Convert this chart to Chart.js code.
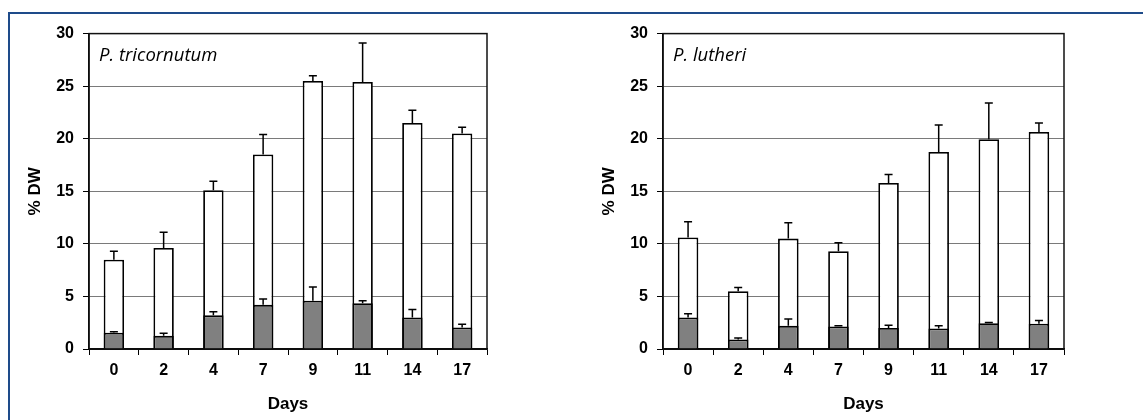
<!DOCTYPE html>
<html>
<head>
<meta charset="utf-8">
<script src="https://cdn.jsdelivr.net/npm/chart.js@4.4.1/dist/chart.umd.min.js"></script>
<style>
  html, body { margin: 0; padding: 0; background: #fff; overflow: hidden; }
  #frame { position: absolute; left: 8px; top: 12px; width: 1140px; height: 420px;
           border-top: 2px solid #1e4b8a; border-left: 2px solid #1e4b8a; }
  canvas { position: absolute; top: 15px; }
  #c1 { left: 10px; }
  #c2 { left: 584px; }
</style>
</head>
<body>
<div id="frame"></div>
<canvas id="c1" width="560" height="405"></canvas>
<canvas id="c2" width="560" height="405"></canvas>
<script>
// sampling days
var days = ['0', '2', '4', '7', '9', '11', '14', '17'];

// P. tricornutum : white = total, grey = part of it
var triTotal    = [8.5, 9.6, 15.1, 18.5, 25.5, 25.4, 21.5, 20.5];
var triTotalErr = [0.8, 1.5, 0.85, 1.9, 0.5, 3.7, 1.2, 0.6];
var triGrey     = [1.55, 1.25, 3.2, 4.2, 4.6, 4.35, 3.0, 2.05];
var triGreyErr  = [0.1, 0.25, 0.35, 0.55, 1.3, 0.25, 0.75, 0.3];

// P. lutheri
var lutTotal    = [10.6, 5.5, 10.5, 9.3, 15.8, 18.75, 19.95, 20.65];
var lutTotalErr = [1.5, 0.35, 1.5, 0.8, 0.8, 2.55, 3.45, 0.85];
var lutGrey     = [3.0, 0.9, 2.2, 2.15, 2.0, 1.95, 2.45, 2.4];
var lutGreyErr  = [0.35, 0.15, 0.65, 0.05, 0.25, 0.25, 0.07, 0.3];

var yTicks = [0, 5, 10, 15, 20, 25, 30];

var errBars = {
  id: 'errBars',
  afterDatasetsDraw: function(chart) {
    var ctx = chart.ctx, y = chart.scales.y, a = chart.chartArea;
    ctx.save();
    // plot frame
    ctx.strokeStyle = '#111';
    ctx.lineWidth = 1.5;
    ctx.strokeRect(a.left, a.top, a.right - a.left, a.bottom - a.top);
    // error bars, upward only
    ctx.lineWidth = 1.5;
    ctx.strokeStyle = '#000';
    chart.data.datasets.forEach(function(ds, i) {
      var meta = chart.getDatasetMeta(i);
      meta.data.forEach(function(bar, j) {
        var top = y.getPixelForValue(ds.data[j] + ds.err[j]);
        ctx.beginPath();
        ctx.moveTo(bar.x, bar.y);
        ctx.lineTo(bar.x, top);
        ctx.moveTo(bar.x - 4, top);
        ctx.lineTo(bar.x + 4, top);
        ctx.stroke();
      });
    });
    // species name
    ctx.fillStyle = '#000';
    ctx.font = 'italic 18.5px "Open Sans"';
    ctx.textBaseline = 'alphabetic';
    ctx.fillText(chart.options.plugins.species, a.left + 10, a.top + 27);
    ctx.restore();
  }
};

function makeChart(id, name, total, totalErr, grey, greyErr, padRight) {
  return new Chart(document.getElementById(id), {
    type: 'bar',
    data: {
      labels: days,
      datasets: [
        { data: grey, err: greyErr, backgroundColor: '#808080', borderColor: '#000', borderWidth: 1.8,
          barPercentage: 0.41, categoryPercentage: 1 },
        { data: total, err: totalErr, backgroundColor: '#fff', borderColor: '#000', borderWidth: 1.8,
          barPercentage: 0.41, categoryPercentage: 1 }
      ]
    },
    options: {
      responsive: false,
      animation: false,
      devicePixelRatio: 1,
      layout: { padding: { top: 14, right: padRight, left: 0, bottom: 0 } },
      plugins: { legend: { display: false }, tooltip: { enabled: false }, species: name },
      scales: {
        x: {
          stacked: true,
          grid: { drawOnChartArea: false, color: '#000', tickLength: 6 },
          border: { color: '#000', width: 1.5 },
          ticks: { color: '#000', padding: 6, font: { family: '"Liberation Sans"', size: 16, weight: 'bold' } },
          title: { display: true, text: 'Days', color: '#000', padding: { top: 4, bottom: 5 },
                   font: { family: '"Liberation Sans"', size: 17, weight: 'bold' } },
          afterFit: function(s) { s.height = 71; }
        },
        y: {
          min: 0, max: 30,
          afterBuildTicks: function(s) { s.ticks = yTicks.map(function(v) { return { value: v }; }); },
          grid: {
            color: function(c) { return (c.tick && (c.tick.value === 0 || c.tick.value === 30)) ? '#111' : '#7a7a7a'; },
            tickColor: '#000', tickLength: 6, lineWidth: 1
          },
          border: { color: '#000', width: 1.5 },
          ticks: { color: '#000', padding: 9, font: { family: '"Liberation Sans"', size: 16, weight: 'bold' } },
          title: { display: true, text: '% DW', color: '#000', padding: { top: 15, bottom: 0 },
                   font: { family: '"Liberation Sans"', size: 17, weight: 'bold' } },
          afterFit: function(s) { s.width = 79; }
        }
      }
    },
    plugins: [errBars]
  });
}

makeChart('c1', 'P. tricornutum', triTotal, triTotalErr, triGrey, triGreyErr, 83);
makeChart('c2', 'P. lutheri', lutTotal, lutTotalErr, lutGrey, lutGreyErr, 80);
</script>
</body>
</html>
